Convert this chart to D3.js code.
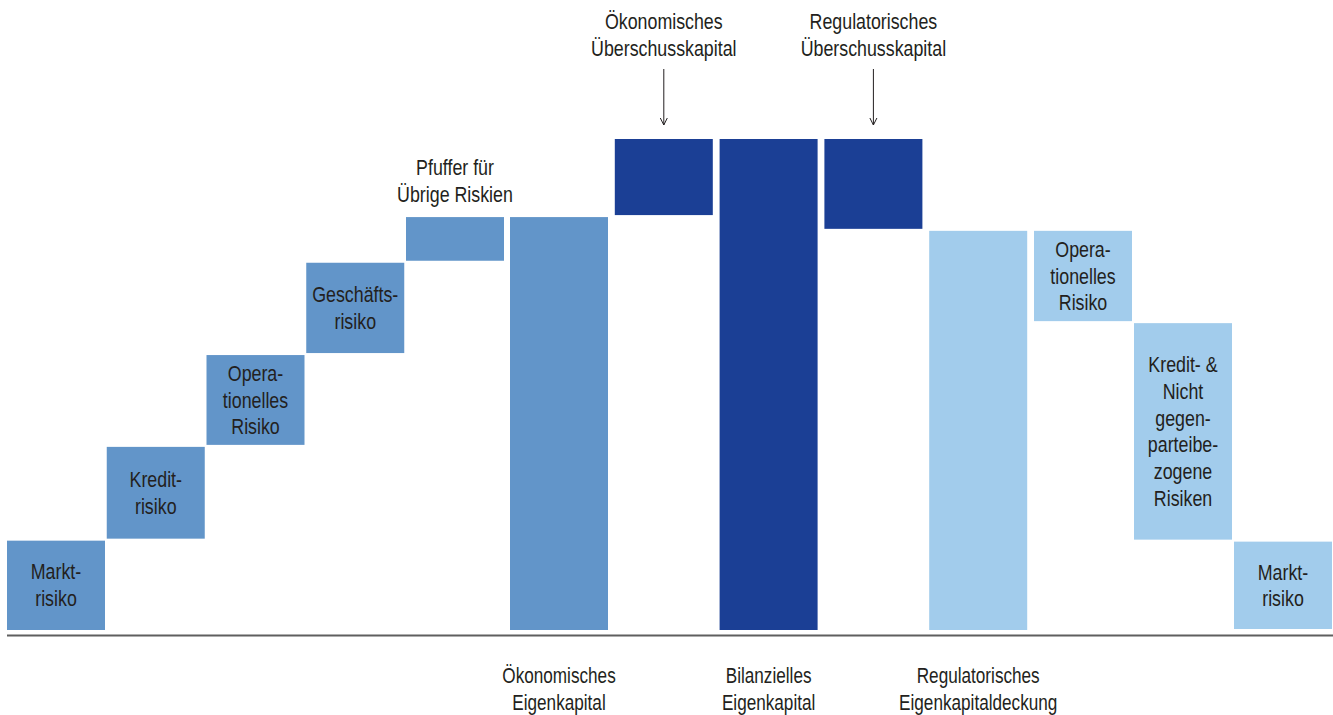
<!DOCTYPE html>
<html lang="de">
<head>
<meta charset="utf-8">
<title>Eigenkapital-Wasserfall</title>
<script src="https://cdn.jsdelivr.net/npm/d3@7/dist/d3.min.js"></script>
<style>
  html, body { margin: 0; padding: 0; background: #fff; }
  svg { display: block; }
  text { font-family: "Liberation Sans", Arial, "Helvetica Neue", sans-serif; fill: #231f20; }
</style>
</head>
<body>
<svg id="chart" width="1333" height="715"></svg>
<script>
// Step identifiers (one slot per bar)
const steps = ["markt", "kredit", "oprisk", "geschaeft", "puffer", "oekEK", "oekUeber",
               "bilanz", "regUeber", "regEK", "oprisk2", "kreditNicht", "markt2"];

// Bar kind: "delta" moves the running total, "total" is drawn from zero
const kinds = ["delta", "delta", "delta", "delta", "delta", "total", "delta",
               "total", "delta", "total", "delta", "delta", "delta"];

// Values (Bilanzielles Eigenkapital = 100)
const values = [18.4, 19.1, 18.7, 18.8, 9.3, 84.3, 15.7,
                100, -18.5, 81.5, -18.8, -44.5, -18.2];

// Colour group per bar
const groups = ["oek", "oek", "oek", "oek", "oek", "oek", "bil",
                "bil", "bil", "reg", "reg", "reg", "reg"];

// Labels written inside the bars
const innerLabels = [
  ["Markt-", "risiko"], ["Kredit-", "risiko"], ["Opera-", "tionelles", "Risiko"],
  ["Geschäfts-", "risiko"], [], [], [], [], [], [],
  ["Opera-", "tionelles", "Risiko"],
  ["Kredit- &", "Nicht", "gegen-", "parteibe-", "zogene", "Risiken"],
  ["Markt-", "risiko"]
];

// Label just above a bar
const aboveLabels = [{ step: "puffer", lines: ["Pfuffer für", "Übrige Riskien"] }];

// Headline labels with an arrow pointing to the bar
const arrowLabels = [
  { step: "oekUeber", lines: ["Ökonomisches", "Überschusskapital"] },
  { step: "regUeber", lines: ["Regulatorisches", "Überschusskapital"] }
];

// Labels below the baseline
const bottomLabels = [
  { step: "oekEK", lines: ["Ökonomisches", "Eigenkapital"] },
  { step: "bilanz", lines: ["Bilanzielles", "Eigenkapital"] },
  { step: "regEK", lines: ["Regulatorisches", "Eigenkapitaldeckung"] }
];

const colors = { oek: "#6295c9", bil: "#1b3f95", reg: "#a2ccec" };

// Build start/end of each bar from the running total
let running = 0;
const bars = steps.map((id, i) => {
  let lo, hi;
  if (kinds[i] === "total") {
    lo = 0; hi = values[i]; running = values[i];
  } else {
    const next = running + values[i];
    lo = Math.min(running, next); hi = Math.max(running, next); running = next;
  }
  return { id, i, lo, hi, group: groups[i], lines: innerLabels[i] };
});

const svg = d3.select("#chart");

// Slot position: risk steps sit a little tighter than the capital columns
const slot = d3.scaleLinear().domain([0, 4, 5, 10, 12]).range([7, 406, 510, 1034, 1234]);
const bandW = 98;
const xOf = id => slot(steps.indexOf(id));
const y = d3.scaleLinear().domain([0, 100]).range([630, 139]);
const maxVal = d3.max(bars, d => d.hi);
const gap = 1;
const lineH = 26.7;

// Bars
svg.append("g").selectAll("rect").data(bars).join("rect")
  .attr("x", d => slot(d.i))
  .attr("width", bandW)
  .attr("y", d => y(d.hi) + (d.hi >= maxVal ? 0 : gap))
  .attr("height", d => (y(d.lo) - (d.lo <= 0 ? 0 : gap)) - (y(d.hi) + (d.hi >= maxVal ? 0 : gap)))
  .attr("fill", d => colors[d.group]);

// Baseline
svg.append("line")
  .attr("x1", 7).attr("x2", 1333)
  .attr("y1", 635.5).attr("y2", 635.5)
  .attr("stroke", "#5f5f5f").attr("stroke-width", 1.8);

// Condensed multi-line label centred on (cx, cy)
function multiline(g, lines, cx, cy, sx = 0.81) {
  const t = g.append("text")
    .attr("text-anchor", "middle")
    .attr("font-size", 22)
    .attr("transform", `translate(${cx},0) scale(${sx},1)`);
  const n = lines.length;
  lines.forEach((l, k) => {
    t.append("tspan").attr("x", 0)
      .attr("y", cy + (k - (n - 1) / 2) * lineH)
      .attr("dy", "0.35em").text(l);
  });
}

const labels = svg.append("g");

// Inner labels, centred in each bar
bars.forEach(d => {
  if (!d.lines.length) return;
  multiline(labels, d.lines, slot(d.i) + bandW / 2, (y(d.hi) + y(d.lo)) / 2);
});

// Label above the buffer bar
aboveLabels.forEach(a => {
  const b = bars.find(d => d.id === a.step);
  multiline(labels, a.lines, xOf(a.step) + bandW / 2, y(b.hi) - 35.5);
});

// Headline labels with arrows
arrowLabels.forEach(a => {
  const cx = xOf(a.step) + bandW / 2;
  multiline(labels, a.lines, cx, 34.5);
  const b = bars.find(d => d.id === a.step);
  const yEnd = y(b.hi) - 14;
  labels.append("line").attr("x1", cx).attr("x2", cx).attr("y1", 69).attr("y2", yEnd)
    .attr("stroke", "#231f20").attr("stroke-width", 1);
  labels.append("path")
    .attr("d", `M${cx - 3.5},${yEnd - 7}L${cx},${yEnd}L${cx + 3.5},${yEnd - 7}`)
    .attr("fill", "none").attr("stroke", "#231f20").attr("stroke-width", 1);
});

// Labels below the baseline
bottomLabels.forEach(a => {
  multiline(labels, a.lines, xOf(a.step) + bandW / 2, 689, 0.78);
});
</script>
</body>
</html>
